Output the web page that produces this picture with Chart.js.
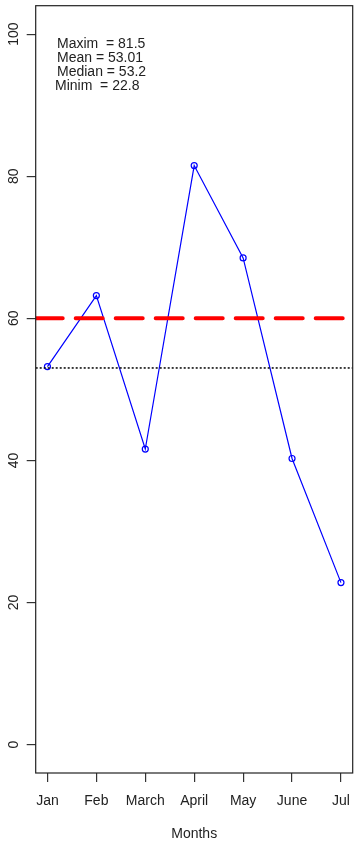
<!DOCTYPE html>
<html>
<head>
<meta charset="utf-8">
<script src="https://cdn.jsdelivr.net/npm/chart.js@4.4.1/dist/chart.umd.min.js"></script>
<style>
  html, body { margin: 0; padding: 0; background: #fff; }
  canvas { display: block; }
</style>
</head>
<body>
<canvas id="monthschart" width="358" height="843"></canvas>
<script>
const months = ['Jan', 'Feb', 'March', 'April', 'May', 'June', 'Jul'];
const monthValues = [53.2, 63.2, 41.6, 81.5, 68.5, 40.27, 22.8];
const yTicks = [0, 20, 40, 60, 80, 100];
const targetValue = 60;
const meanValue = 53.01;
const statLines = ['Maxim  = 81.5', 'Mean = 53.01', 'Median = 53.2', 'Minim  = 22.8'];

// R style axis limits (4% extension on each side)
const xMin = 0.76, xMax = 7.24;
const yMin = -4, yMax = 104;

const fontFamily = '"Liberation Sans", Arial, sans-serif';

const rStyle = {
    id: 'rStyle',
    afterDraw(chart) {
        const { ctx, chartArea: a, scales: { y } } = chart;
        ctx.save();
        // plot box
        ctx.strokeStyle = '#222';
        ctx.lineWidth = 1.2;
        ctx.strokeRect(a.left, a.top, a.right - a.left, a.bottom - a.top);

        // rotated y tick labels
        ctx.fillStyle = '#222';
        ctx.font = '14px ' + fontFamily;
        ctx.textAlign = 'center';
        ctx.textBaseline = 'middle';
        yTicks.forEach(v => {
            ctx.save();
            ctx.translate(14, y.getPixelForValue(v));
            ctx.rotate(-Math.PI / 2);
            ctx.fillText(String(v), 0, 0);
            ctx.restore();
        });

        // summary text
        ctx.textAlign = 'left';
        statLines.forEach((t, i) => {
            ctx.fillText(t, i === 3 ? 55 : 57, 44 + i * 14);
        });
        ctx.restore();
    }
};

const ctx = document.getElementById('monthschart').getContext('2d');

const myChart = new Chart(ctx, {
    type: 'line',
    data: {
        datasets: [
            {
                label: 'Values',
                data: months.map((m, i) => ({ x: i + 1, y: monthValues[i] })),
                borderColor: '#0000ff',
                borderWidth: 1.2,
                pointRadius: 3,
                pointBorderWidth: 1.2,
                pointBorderColor: '#0000ff',
                pointBackgroundColor: 'rgba(0,0,0,0)',
                tension: 0,
                order: 2,
            },
            {
                label: 'Target',
                data: [{ x: xMin, y: targetValue }, { x: xMax, y: targetValue }],
                borderColor: '#ff0000',
                borderWidth: 4,
                borderDash: [27, 13],
                borderCapStyle: 'round',
                pointRadius: 0,
                clip: 0,
                order: 1,
            },
            {
                label: 'Mean',
                data: [{ x: xMin, y: meanValue }, { x: xMax, y: meanValue }],
                borderColor: '#000',
                borderWidth: 1.5,
                borderDash: [2, 2],
                pointRadius: 0,
                clip: 0,
                order: 0,
            },
        ],
    },
    options: {
        responsive: false,
        animation: false,
        events: [],
        layout: {
            padding: { left: 26.7, right: 5.3, top: 5.7, bottom: 0 }
        },
        plugins: {
            legend: { display: false },
            tooltip: { enabled: false },
        },
        scales: {
            x: {
                type: 'linear',
                min: xMin,
                max: xMax,
                afterBuildTicks: s => { s.ticks = months.map((m, i) => ({ value: i + 1 })); },
                afterFit: s => { s.paddingLeft = 0; s.paddingRight = 0; },
                grid: {
                    drawOnChartArea: false,
                    tickLength: 9,
                    color: '#333',
                    lineWidth: 1.2,
                },
                border: { display: false },
                ticks: {
                    autoSkip: false,
                    maxRotation: 0,
                    padding: 10.6,
                    color: '#222',
                    font: { size: 14, family: fontFamily },
                    callback: (v, i) => months[i],
                },
                title: {
                    display: true,
                    text: 'Months',
                    color: '#222',
                    font: { size: 14, family: fontFamily },
                    padding: { top: 5.6, bottom: 0.6 },
                },
            },
            y: {
                min: yMin,
                max: yMax,
                afterBuildTicks: s => { s.ticks = yTicks.map(v => ({ value: v })); },
                grid: {
                    drawOnChartArea: false,
                    tickLength: 9,
                    color: '#333',
                    lineWidth: 1.2,
                },
                border: { display: false },
                ticks: { display: false },
            },
        },
    },
    plugins: [rStyle],
});
</script>
</body>
</html>
